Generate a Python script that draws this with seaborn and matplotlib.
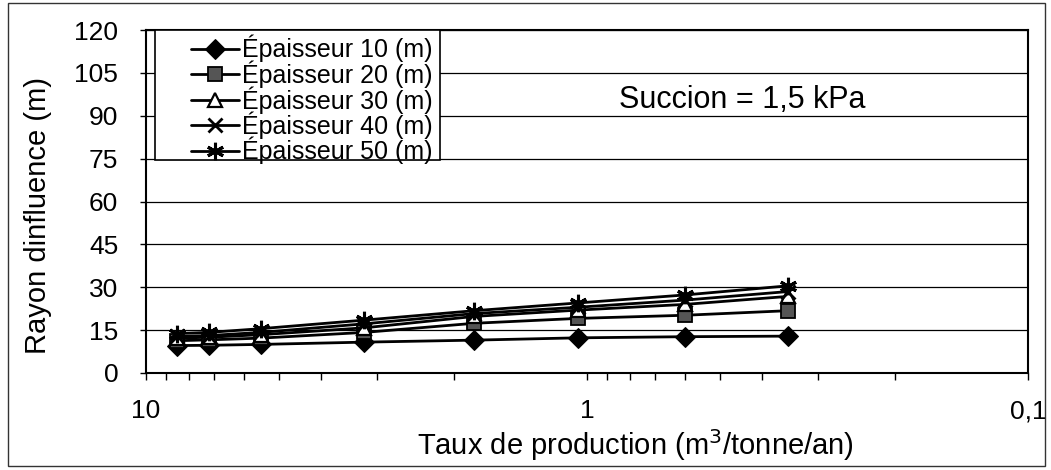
import numpy as np
import pandas as pd
import matplotlib
matplotlib.use("Agg")
import matplotlib.pyplot as plt
import matplotlib.ticker as mticker
from matplotlib.patches import Rectangle
import seaborn as sns

# ---- data ----
taux = [8.5, 7.2, 5.5, 3.2, 1.8, 1.05, 0.6, 0.35]
ep10 = [9.6, 9.7, 10.0, 10.8, 11.5, 12.3, 12.7, 12.9]
ep20 = [11.3, 11.6, 12.2, 14.2, 17.4, 19.1, 20.2, 21.8]
ep30 = [12.2, 12.5, 13.4, 15.8, 19.8, 22.0, 24.0, 26.8]
ep40 = [12.8, 13.1, 14.2, 17.2, 20.8, 23.0, 25.5, 28.5]
ep50 = [13.8, 14.2, 15.5, 18.5, 21.8, 24.5, 27.3, 30.5]
series_labels = ["Épaisseur 10 (m)", "Épaisseur 20 (m)", "Épaisseur 30 (m)",
                 "Épaisseur 40 (m)", "Épaisseur 50 (m)"]
y_ticks = [0, 15, 30, 45, 60, 75, 90, 105, 120]
x_ticks = [10, 1, 0.1]
x_tick_labels = ["10", "1", "0,1"]

sns.set_theme(style="white")
plt.rcParams['font.family'] = ['Liberation Sans', 'DejaVu Sans']
plt.rcParams['text.color'] = 'black'
plt.rcParams['axes.labelcolor'] = 'black'
plt.rcParams['xtick.color'] = 'black'
plt.rcParams['ytick.color'] = 'black'

fig = plt.figure(figsize=(10.51, 4.70), dpi=100)
ax = fig.add_axes([146/1051, 1-373/470, (1028-146)/1051, (373-30)/470])

styles = [
    dict(marker='D', markersize=10, markerfacecolor='black', markeredgecolor='black'),
    dict(marker='s', markersize=9.5, markerfacecolor='#555555', markeredgecolor='black', markeredgewidth=1.3),
    dict(marker='^', markersize=9.5, markerfacecolor='white', markeredgecolor='black', markeredgewidth=1.6),
    dict(marker='x', markersize=10, markeredgecolor='black', markeredgewidth=2.0),
    dict(marker=(6, 2, 0), markersize=12.5, markeredgecolor='black', markeredgewidth=2.2),
]
all_y = [ep10, ep20, ep30, ep40, ep50]
for yv, lab, st in zip(all_y, series_labels, styles):
    df = pd.DataFrame({"x": taux, "y": yv})
    sns.lineplot(data=df, x="x", y="y", ax=ax, color='black', linewidth=2.0,
                 label=lab, sort=False, zorder=4, **st)

ax.set_xscale('log')
ax.set_xlim(10, 0.1)
ax.set_ylim(0, 120)
ax.set_yticks(y_ticks)
ax.xaxis.set_major_locator(mticker.FixedLocator(x_ticks))
ax.xaxis.set_major_formatter(mticker.FixedFormatter(x_tick_labels))
ax.xaxis.set_minor_locator(mticker.LogLocator(base=10, subs=np.arange(2, 10)))
ax.xaxis.set_minor_formatter(mticker.NullFormatter())

ax.grid(axis='y', color='black', linewidth=0.9, zorder=1)
ax.grid(axis='x', visible=False)
ax.set_axisbelow(True)
for s in ax.spines.values():
    s.set_color('black')
    s.set_linewidth(1.5)

ax.tick_params(axis='x', which='both', direction='out', bottom=True, length=5,
               width=1, color='black', labelsize=19, labelcolor='black', pad=14)
ax.tick_params(axis='y', which='major', direction='out', left=True, length=4,
               width=1, color='black', labelsize=19, labelcolor='black', pad=16)

ax.set_xlabel("Taux de production (m$^3$/tonne/an)", fontsize=21, color='black', va='center')
ax.xaxis.set_label_coords((635-146)/882, -(445-373)/343)
ax.set_ylabel("Rayon dinfluence (m)", fontsize=21, color='black', va='center')
ax.yaxis.set_label_coords((38-146)/882, (373-215)/343)

# legend box
leg_left = (155-146)/882
leg_right = (440-146)/882
leg_bottom = (373-160)/343
ax.add_patch(Rectangle((leg_left, leg_bottom), leg_right-leg_left, 1-leg_bottom,
                       transform=ax.transAxes, facecolor='white', edgecolor='black',
                       linewidth=1.2, zorder=5))
leg = ax.legend(loc='upper left', bbox_to_anchor=((186-146)/882 - 0.0, 1.0),
                frameon=False, fontsize=18, handlelength=1.9, handletextpad=0.12,
                labelspacing=-0.08, borderpad=0.2, borderaxespad=0.0)
leg.set_zorder(6)
for t in leg.get_texts():
    t.set_color('black')

ax.text(0.676, 0.796, "Succion = 1,5 kPa", transform=ax.transAxes, fontsize=22,
        ha='center', va='center', color='black', zorder=6)

# outer frame
fig.patches.append(Rectangle((8/1051, 1-466/470), (1045-8)/1051, (466-3)/470,
                             transform=fig.transFigure, fill=False,
                             edgecolor='#333333', linewidth=1.0))

fig.savefig("out.png", dpi=100)
